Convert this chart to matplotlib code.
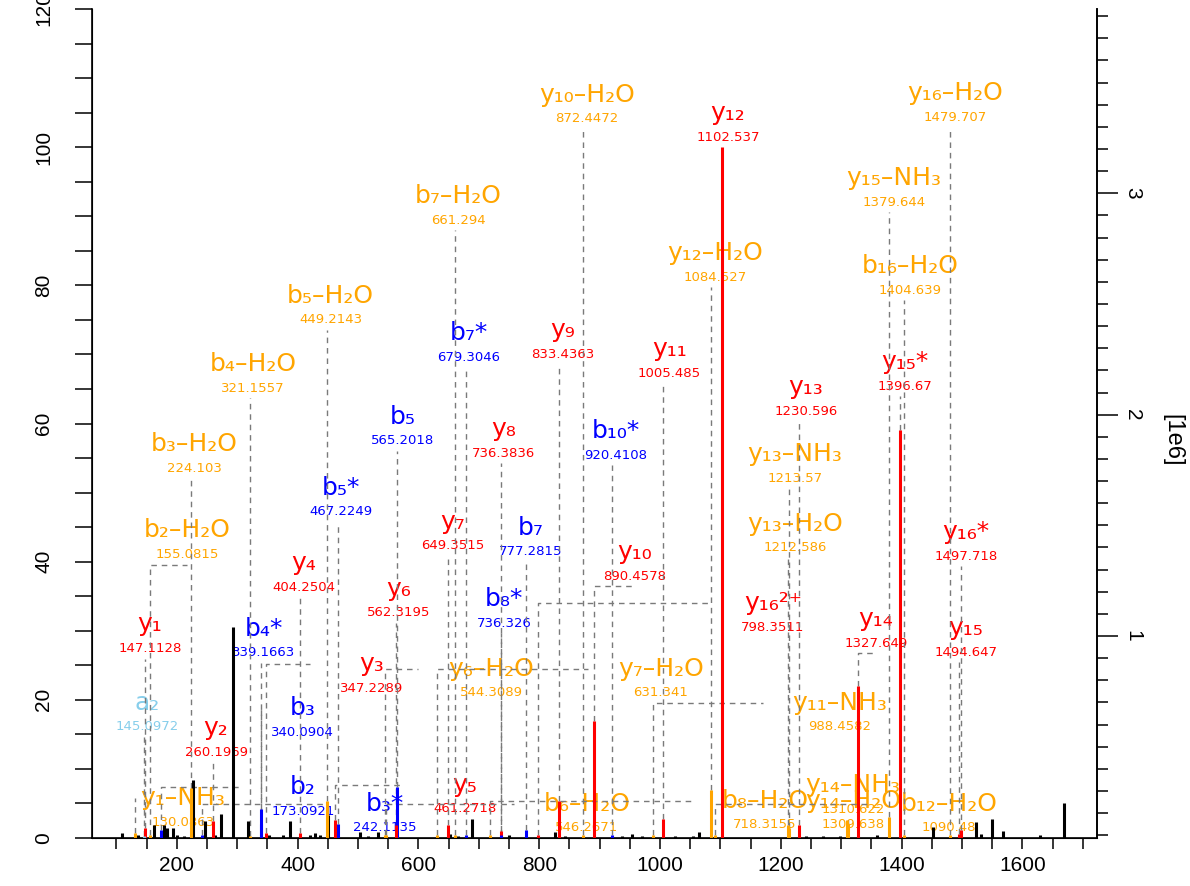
import numpy as np
import matplotlib
matplotlib.use("Agg")
import matplotlib.pyplot as plt
from matplotlib.ticker import MultipleLocator

# un-annotated peaks: m/z and relative intensity (%)
plain_mz = [109.1, 135.6, 162.1, 178.6, 183.7, 193.6, 200.1, 211.8, 226.0, 246.5,
            263.0, 272.9, 292.8, 317.6, 352.5, 375.7, 387.3, 420.4, 428.6, 437.0,
            450.2, 503.2, 516.4, 533.0, 652.2, 665.4, 688.6, 749.9, 826.0, 842.6,
            936.9, 953.5, 970.0, 1024.7, 1054.5, 1064.4, 1241.6, 1269.7, 1297.9,
            1359.1, 1451.8, 1523.0, 1531.3, 1549.5, 1567.7, 1629.0, 1668.7]
plain_int = [0.7, 0.5, 1.9, 1.9, 1.4, 1.5, 0.4, 0.3, 8.4, 2.4,
             0.5, 3.5, 30.5, 2.4, 0.4, 0.4, 2.5, 0.5, 0.7, 0.5,
             3.4, 0.8, 0.3, 0.8, 0.6, 0.3, 2.7, 0.4, 0.8, 0.3,
             0.3, 0.6, 0.3, 0.3, 0.3, 0.9, 0.3, 0.3, 0.3,
             0.4, 1.6, 2.3, 0.6, 2.7, 1.0, 0.4, 5.0]

# annotated fragment ions
ion_name = ["y₁", "a₂", "y₁–NH₃", "b₂–H₂O", "b₃–H₂O", "b₄–H₂O", "b₅–H₂O", "b₅*", "b₅",
            "b₇–H₂O", "b₇*", "y₁₀–H₂O", "y₁₂", "y₁₂–H₂O", "y₉", "y₁₁", "y₁₆–H₂O",
            "y₁₅–NH₃", "b₁₆–H₂O", "y₁₅*", "y₁₃", "y₁₃–NH₃", "y₁₃–H₂O", "y₁₆²⁺", "y₁₄",
            "y₁₅", "y₁₆*", "y₁₀", "b₁₀*", "y₈", "y₇", "b₇", "b₈*", "b₈–H₂O", "b₆–H₂O",
            "y₅", "y₆", "y₄", "b₄*", "y₃", "b₃", "y₂", "b₂", "b₃*", "y₁₄–NH₃",
            "y₁₄–H₂O", "b₁₂–H₂O", "y₆–H₂O", "y₇–H₂O", "y₁₁–NH₃"]
ion_mz = [147.1128, 145.0972, 130.0863, 155.0815, 224.103, 321.1557, 449.2143, 467.2249, 565.2018,
          661.294, 679.3046, 872.4472, 1102.537, 1084.527, 833.4363, 1005.485, 1479.707,
          1379.644, 1404.639, 1396.67, 1230.596, 1213.57, 1212.586, 798.3511, 1327.649,
          1494.647, 1497.718, 890.4578, 920.4108, 736.3836, 649.3515, 777.2815, 736.326, 718.3155, 546.2671,
          461.2718, 562.3195, 404.2504, 339.1663, 347.2289, 340.0904, 260.1969, 173.0921, 242.1135, 1310.622,
          1309.638, 1090.48, 544.3089, 631.341, 988.4582]
ion_int = [1.5, 0.3, 0.7, 0.4, 7.2, 0.3, 5.4, 2.0, 7.4,
           0.4, 0.5, 0.4, 100.0, 6.9, 5.4, 2.7, 0.4,
           3.0, 0.4, 59.0, 1.9, 1.5, 1.9, 0.4, 22.0,
           0.6, 1.2, 17.0, 0.4, 1.0, 1.9, 1.2, 0.5, 0.4, 0.4,
           2.6, 1.9, 0.7, 2.0, 0.7, 4.2, 2.5, 1.2, 0.4, 2.0,
           2.6, 0.4, 0.4, 0.4, 0.4]

# label placement: x (m/z) of the label, height (%) of the m/z text, label set off to the side
label_x = [155.5, 150.5, 210.1, 216.7, 229.2, 326.0, 454.3, 471.7, 573.5,
           665.4, 683.6, 879.0, 1112.4, 1091.7, 838.4, 1015.6, 1488.3,
           1387.3, 1413.8, 1405.5, 1241.6, 1223.4, 1223.4, 1187.0, 1357.5,
           1506.5, 1506.5, 958.5, 927.0, 741.6, 657.1, 786.3, 741.6, 1173.7, 879.0,
           677.0, 567.7, 410.4, 344.2, 523.0, 408.7, 264.8, 408.7, 544.5, 1319.4,
           1319.4, 1478.3, 720.1, 1001.5, 1297.9]
label_y = [27.4, 16.1, 2.3, 41.0, 53.5, 65.1, 75.0, 47.2, 57.5,
           89.4, 69.6, 104.1, 101.4, 81.2, 70.0, 67.3, 104.3,
           92.0, 79.3, 65.4, 61.7, 52.1, 42.0, 30.5, 28.2,
           26.9, 40.8, 37.9, 55.4, 55.7, 42.3, 41.4, 31.1, 1.9, 1.45,
           4.2, 32.6, 36.3, 26.8, 21.7, 15.3, 12.4, 3.9, 1.45, 4.1,
           1.9, 1.45, 21.0, 21.0, 16.1]
side = ["y₁–NH₃", "y₁₆²⁺", "b₈–H₂O", "b₆–H₂O", "y₅", "y₃", "b₃", "b₂", "b₃*",
        "b₁₂–H₂O", "y₆–H₂O", "y₇–H₂O", "y₁₁–NH₃"]


def ion_color(name):
    if "–" in name:
        return "orange"
    if name.startswith("a"):
        return "skyblue"
    if name.startswith("b"):
        return "blue"
    return "red"


fig = plt.figure(figsize=(11.9, 8.86), dpi=100)
ax = fig.add_axes([92 / 1190, 48 / 886, 1005 / 1190, 829 / 886])
ax.set_xlim(59.5, 1723.4)
ax.set_ylim(0, 120)

ax.vlines(plain_mz, 0, plain_int, color="black", lw=2.2, zorder=3)
colors = [ion_color(n) for n in ion_name]
ax.vlines(ion_mz, 0, ion_int, color=colors, lw=2.2, zorder=4)

texts = []
for name, mz, lx, ly, c in zip(ion_name, ion_mz, label_x, label_y, colors):
    t1 = ax.text(lx, ly, f"{mz:.7g}", color=c, fontsize=9.5, ha="center", va="center", zorder=1)
    t2 = ax.text(lx, ly + 2.5, name, color=c, fontsize=18, ha="center", va="baseline", zorder=1)
    texts.append((t1, t2))

fig.canvas.draw()
renderer = fig.canvas.get_renderer()
inv = ax.transData.inverted()
dash = dict(color="#7a7a7a", lw=1.0, ls=(0, (4, 3.5)), zorder=2)
for name, mz, h, lx, ly, (t1, t2) in zip(ion_name, ion_mz, ion_int, label_x, label_y, texts):
    if name in side:
        top = ly + 3.5
        left = min(t1.get_window_extent(renderer).x0, t2.get_window_extent(renderer).x0) - 30
        end = inv.transform((left, 0))[0]
        xs, ys = [mz, mz], [h, top]
        if end > mz:
            xs.append(end)
            ys.append(top)
    else:
        top = ly - 1.45
        if top <= h:
            continue
        xs, ys = [mz, mz], [h, top]
        if abs(lx - mz) > 12.5:
            xs.append(lx)
            ys.append(top)
    ax.plot(xs, ys, **dash)

# axes styling
ax.spines["top"].set_visible(False)
for s in ["left", "bottom", "right"]:
    ax.spines[s].set_linewidth(1.2)
ax.xaxis.set_major_locator(MultipleLocator(200))
ax.xaxis.set_minor_locator(MultipleLocator(50))
ax.set_xticks(np.arange(200, 1601, 200))
ax.tick_params(axis="x", which="both", length=8, width=1.1, pad=5,
               labelsize=15, labelfontfamily="Liberation Sans")
ax.yaxis.set_major_locator(MultipleLocator(20))
ax.yaxis.set_minor_locator(MultipleLocator(5))
ax.tick_params(axis="y", which="both", length=12, width=1.1, pad=16,
               labelsize=15, labelfontfamily="Liberation Sans")
for lab in ax.get_yticklabels():
    lab.set_rotation(90)
    lab.set_va("center")

ax2 = ax.twinx()
ax2.set_ylim(0.088, 3.832)
ax2.spines["top"].set_visible(False)
ax2.spines["right"].set_linewidth(1.2)
ax2.set_yticks([1, 2, 3])
ax2.yaxis.set_minor_locator(MultipleLocator(0.1))
ax2.tick_params(axis="y", which="major", length=15, width=1.1, pad=4,
                labelsize=15, labelfontfamily="Liberation Sans")
ax2.tick_params(axis="y", which="minor", length=8, width=1.1)
for lab in ax2.get_yticklabels():
    lab.set_rotation(-90)
    lab.set_va("center")
fig.text(1172 / 1190, 1 - 440 / 886, "[1e6]", rotation=-90, ha="center", va="center",
         fontsize=17, family="Liberation Sans")

fig.savefig("out.png", dpi=100)
